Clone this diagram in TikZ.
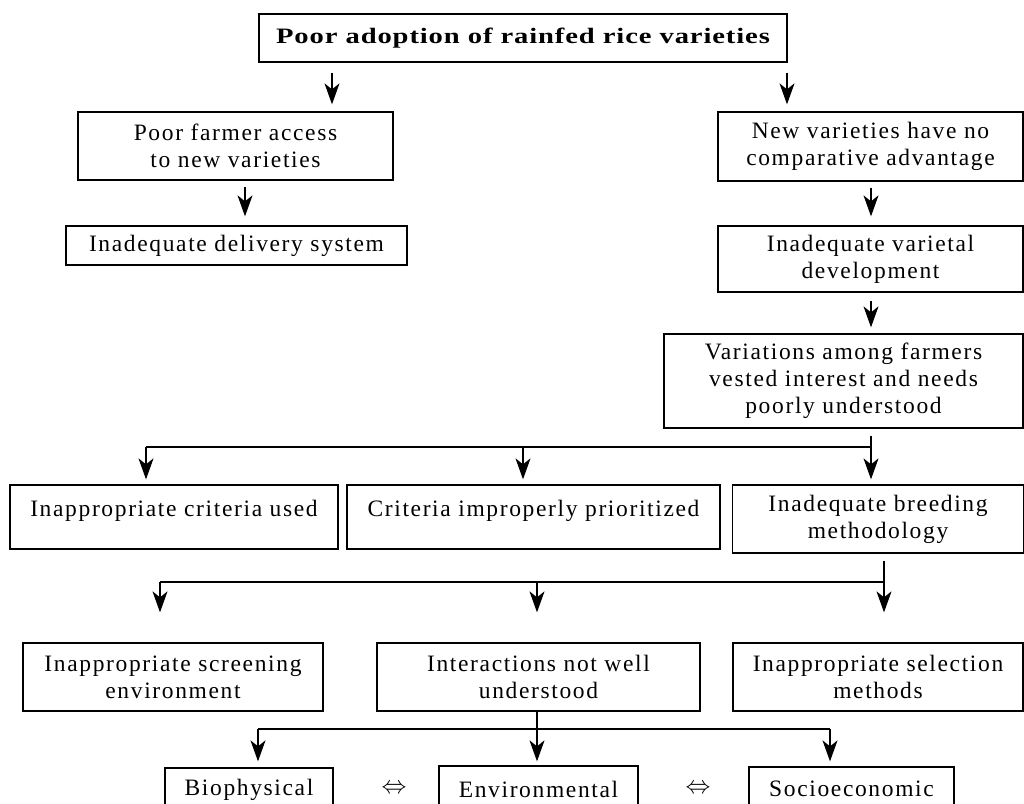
\documentclass[tikz,border=0pt]{standalone}
\usepackage{fontspec}
\setmainfont{Liberation Serif}[LetterSpace=7]
\newfontfamily\titlefont{Liberation Serif}[FakeStretch=1.3,LetterSpace=4]
\usetikzlibrary{arrows.meta}
\begin{document}
\begin{tikzpicture}[x=1pt,y=-1pt,
  box/.style={draw, line width=1.3pt, align=center, inner sep=0pt,
    font=\fontsize{23.5}{27}\selectfont},
  conn/.style={line width=1.2pt},
  arr/.style={conn, -{Stealth[length=21pt,width=15pt,inset=6pt]}},
  eqv/.style={font=\fontsize{25}{28}\selectfont}]
\clip (0,0) rectangle (1024,803);
% boxes
\node[box, minimum width=528pt, minimum height=48pt] (top) at (523,38)
  {\titlefont\bfseries\fontsize{22}{24}\selectfont Poor adoption of rainfed rice varieties};
\node[box, minimum width=315pt, minimum height=68pt] (acc) at (235.5,146)
  {Poor farmer access\\to new varieties};
\node[box, minimum width=341pt, minimum height=39pt] (deliv) at (236.5,245.5)
  {Inadequate delivery system};
\node[box, minimum width=305pt, minimum height=69pt] (nova) at (870.5,146.5)
  {New varieties have no\\comparative advantage};
\node[box, minimum width=305pt, minimum height=66pt] (ivd) at (870.5,259)
  {Inadequate varietal\\development};
\node[box, minimum width=359pt, minimum height=94pt] (var) at (843.5,381)
  {Variations among farmers\\vested interest and needs\\poorly understood};
\node[box, minimum width=328pt, minimum height=64pt] (crit) at (174,517)
  {\raisebox{6pt}[\height][\depth]{Inappropriate criteria used}};
\node[box, minimum width=373pt, minimum height=64pt] (prio) at (533.5,517)
  {\raisebox{6pt}[\height][\depth]{Criteria improperly prioritized}};
\node[box, minimum width=291pt, minimum height=68pt] (breed) at (878,519)
  {Inadequate breeding\\methodology};
\node[box, minimum width=300pt, minimum height=68pt] (screen) at (173,677)
  {Inappropriate screening\\environment};
\node[box, minimum width=323pt, minimum height=68pt] (inter) at (538.5,677)
  {Interactions not well\\understood};
\node[box, minimum width=290pt, minimum height=68pt] (select) at (878,677)
  {Inappropriate selection\\methods};
\node[box, minimum width=168pt, minimum height=44pt] (bio) at (249,790)
  {Biophysical};
\node[box, minimum width=199pt, minimum height=46pt] (env) at (538.5,789)
  {Environmental};
\node[box, minimum width=205pt, minimum height=44pt] (soc) at (851.5,789)
  {Socioeconomic};
\node[eqv] (eq1) at (394,789) {$\Leftrightarrow$};
\node[eqv] (eq2) at (698,789) {$\Leftrightarrow$};
% junction coordinates
\coordinate (c1) at (332,0);
\coordinate (c2) at (787,0);
\coordinate (c3) at (245,0);
\coordinate (c4) at (871,0);
\coordinate (j1) at (871,447);
\coordinate (j1l) at (146,447);
\coordinate (j1m) at (523,447);
\coordinate (j2) at (884,582);
\coordinate (j2l) at (160,582);
\coordinate (j2m) at (537,582);
\coordinate (j3) at (537,729);
\coordinate (j3l) at (258,729);
\coordinate (j3r) at (830,729);
% connectors
\draw[arr, shorten <=10pt, shorten >=7pt] (top.south -| c1) -- (acc.north -| c1);
\draw[arr, shorten <=10pt, shorten >=7pt] (top.south -| c2) -- (nova.north -| c2);
\draw[arr, shorten <=6pt, shorten >=9pt] (acc.south -| c3) -- (deliv.north -| c3);
\draw[arr, shorten <=6pt, shorten >=9pt] (nova.south -| c4) -- (ivd.north -| c4);
\draw[arr, shorten <=8pt, shorten >=6pt] (ivd.south -| c4) -- (var.north -| c4);
\draw[conn, shorten <=7pt] (var.south -| j1) -- (j1) -- (j1l);
\draw[arr, shorten >=5pt] (j1l) -- (crit.north -| j1l);
\draw[arr, shorten >=5pt] (j1m) -- (prio.north -| j1m);
\draw[arr, shorten >=5pt] (j1) -- (breed.north -| j1);
\draw[conn, shorten <=7pt] (breed.south -| j2) -- (j2) -- (j2l);
\draw[arr, shorten >=30pt] (j2l) -- (screen.north -| j2l);
\draw[arr, shorten >=30pt] (j2m) -- (inter.north -| j2m);
\draw[arr, shorten >=30pt] (j2) -- (select.north -| j2);
\draw[conn] (inter.south -| j3) -- (j3);
\draw[conn] (j3l) -- (j3r);
\draw[arr, shorten >=6pt] (j3l) -- (bio.north -| j3l);
\draw[arr, shorten >=4pt] (j3) -- (env.north -| j3);
\draw[arr, shorten >=5pt] (j3r) -- (soc.north -| j3r);
\end{tikzpicture}
\end{document}
